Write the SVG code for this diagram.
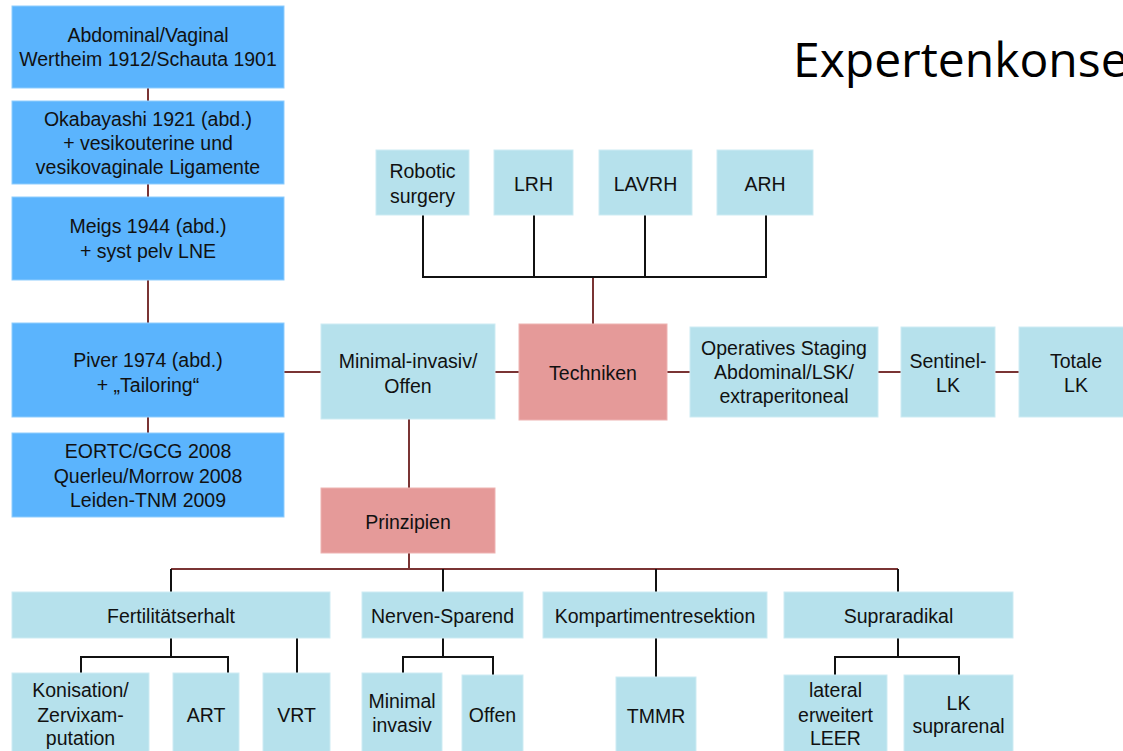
<svg xmlns="http://www.w3.org/2000/svg" width="1123" height="751" viewBox="0 0 1123 751">
<style>
.dk{fill:#5bb4fd;stroke:#8fcdfd;stroke-width:1}
.lt{fill:#b6e1ec;stroke:#cdebf3;stroke-width:1}
.pk{fill:#e59a99;stroke:#eeb3b2;stroke-width:1}
text{font-family:"Liberation Sans",Arial,sans-serif;font-size:19.5px;fill:#111;text-anchor:middle}
.title{font-family:"Open Sans",sans-serif;font-size:48px;fill:#000;text-anchor:start}
.r{stroke:#7a3434;stroke-width:2;fill:none}
.b{stroke:#111;stroke-width:2;fill:none}
</style>
<text class="title" x="793" y="77">Expertenkonse</text>
<g id="connectors">
<path class="r" d="M148 88V101M148 184V197M148 280V323M148 417V433"/>
<path class="r" d="M284 372H321M495 372H519M667 372H690M878 372H901M995 372H1019"/>
<path class="r" d="M593 324V277"/>
<path class="b" d="M423 215V277H766V215M534 215V277M645 215V277"/>
<path class="r" d="M409 419V488M409 553V569M171 569H898"/>
<path class="b" d="M171 569V592M443 569V592M656 569V592M898 569V592"/>
<path class="b" d="M171 638V657M81 673V657H228V673M297 638V673"/>
<path class="b" d="M443 638V657M403 673V657H493V675"/>
<path class="b" d="M656 638V677"/>
<path class="b" d="M898 638V657M835 675V657H959V675"/>
</g>
<g id="n-abd"><rect class="dk" x="12" y="6" width="272" height="82"/><text x="148" y="42">Abdominal/Vaginal</text><text x="148" y="66">Wertheim 1912/Schauta 1901</text></g>
<g id="n-oka"><rect class="dk" x="12" y="101" width="272" height="83"/><text x="148" y="126">Okabayashi 1921 (abd.)</text><text x="148" y="150">+ vesikouterine und</text><text x="148" y="174">vesikovaginale Ligamente</text></g>
<g id="n-meigs"><rect class="dk" x="12" y="197" width="272" height="83"/><text x="148" y="233">Meigs 1944 (abd.)</text><text x="148" y="258">+ syst pelv LNE</text></g>
<g id="n-piver"><rect class="dk" x="12" y="323" width="272" height="94"/><text x="148" y="367">Piver 1974 (abd.)</text><text x="148" y="392">+ „Tailoring“</text></g>
<g id="n-eortc"><rect class="dk" x="12" y="433" width="272" height="84"/><text x="148" y="458">EORTC/GCG 2008</text><text x="148" y="483">Querleu/Morrow 2008</text><text x="148" y="507">Leiden-TNM 2009</text></g>
<g id="n-robotic"><rect class="lt" x="376" y="150" width="93" height="65"/><text x="422.5" y="178">Robotic</text><text x="422.5" y="203">surgery</text></g>
<g id="n-lrh"><rect class="lt" x="494" y="150" width="79" height="65"/><text x="533.5" y="191">LRH</text></g>
<g id="n-lavrh"><rect class="lt" x="599" y="150" width="93" height="65"/><text x="645.5" y="191">LAVRH</text></g>
<g id="n-arh"><rect class="lt" x="717" y="150" width="96" height="65"/><text x="765" y="191">ARH</text></g>
<g id="n-minimal"><rect class="lt" x="321" y="324" width="174" height="95"/><text x="408" y="368">Minimal-invasiv/</text><text x="408" y="393">Offen</text></g>
<g id="n-techniken"><rect class="pk" x="519" y="324" width="148" height="96"/><text x="593" y="380">Techniken</text></g>
<g id="n-staging"><rect class="lt" x="690" y="327" width="188" height="90"/><text x="784" y="355">Operatives Staging</text><text x="784" y="379">Abdominal/LSK/</text><text x="784" y="403">extraperitoneal</text></g>
<g id="n-sentinel"><rect class="lt" x="901" y="327" width="94" height="90"/><text x="948" y="368">Sentinel-</text><text x="948" y="392">LK</text></g>
<g id="n-totale"><rect class="lt" x="1019" y="327" width="114" height="90"/><text x="1076" y="368">Totale</text><text x="1076" y="392">LK</text></g>
<g id="n-prinzipien"><rect class="pk" x="321" y="488" width="174" height="65"/><text x="408" y="529">Prinzipien</text></g>
<g id="n-fert"><rect class="lt" x="12" y="592" width="318" height="46"/><text x="171" y="623">Fertilitätserhalt</text></g>
<g id="n-nerven"><rect class="lt" x="362" y="592" width="161" height="46"/><text x="442.5" y="623">Nerven-Sparend</text></g>
<g id="n-kompart"><rect class="lt" x="543" y="592" width="224" height="46"/><text x="655" y="623">Kompartimentresektion</text></g>
<g id="n-supra"><rect class="lt" x="784" y="592" width="229" height="46"/><text x="898.5" y="623">Supraradikal</text></g>
<g id="n-konisation"><rect class="lt" x="12" y="673" width="137" height="82"/><text x="80.5" y="697">Konisation/</text><text x="80.5" y="722">Zervixam-</text><text x="80.5" y="745">putation</text></g>
<g id="n-art"><rect class="lt" x="173" y="673" width="66" height="82"/><text x="206" y="722">ART</text></g>
<g id="n-vrt"><rect class="lt" x="263" y="673" width="67" height="82"/><text x="296.5" y="722">VRT</text></g>
<g id="n-mininv"><rect class="lt" x="362" y="673" width="80" height="82"/><text x="402" y="708">Minimal</text><text x="402" y="732">invasiv</text></g>
<g id="n-offen"><rect class="lt" x="462" y="675" width="61" height="80"/><text x="492.5" y="722">Offen</text></g>
<g id="n-tmmr"><rect class="lt" x="616" y="677" width="80" height="78"/><text x="656" y="723">TMMR</text></g>
<g id="n-lateral"><rect class="lt" x="784" y="675" width="103" height="80"/><text x="835.5" y="697">lateral</text><text x="835.5" y="722">erweitert</text><text x="835.5" y="745">LEER</text></g>
<g id="n-lksupra"><rect class="lt" x="904" y="675" width="109" height="80"/><text x="958.5" y="710">LK</text><text x="958.5" y="733">suprarenal</text></g>
</svg>
